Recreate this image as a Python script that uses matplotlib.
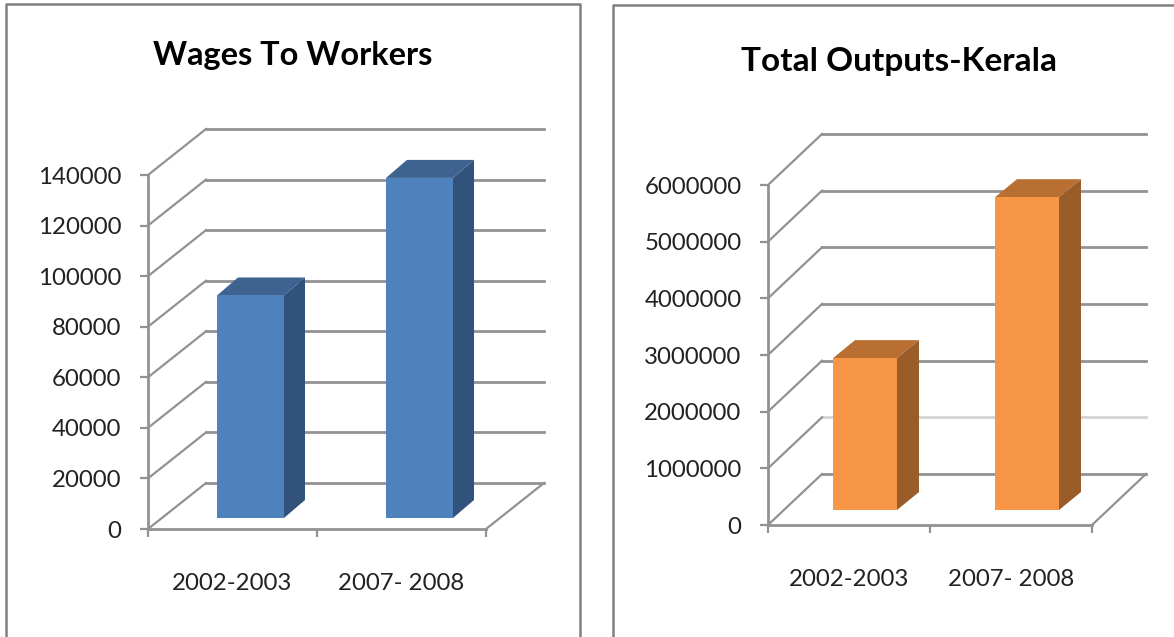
import matplotlib
matplotlib.use("Agg")
import matplotlib.pyplot as plt
from matplotlib.lines import Line2D
from matplotlib.patches import Polygon

plt.rcParams['font.family'] = ['Lato', 'DejaVu Sans']

W, H = 1174, 637

categories = ["2002-2003", "2007- 2008"]
wages = [88000, 134500]
wages_ticks = [0, 20000, 40000, 60000, 80000, 100000, 120000, 140000]
outputs = [2680000, 5520000]
outputs_ticks = [0, 1000000, 2000000, 3000000, 4000000, 5000000, 6000000]

GRID = "#929292"


def chart(box, values, ticks, title, title_xy, title_size, depth, bar_w, bar_off, bar_depth, cols, pale=None):
    # box is left, right, bottom, top in pixels, y going down like the picture
    l, r, b, t = box
    ax = fig.add_axes([l / W, 1 - b / H, (r - l) / W, (b - t) / H])
    top = ticks[-1]
    ax.set_xlim(0, 2)
    ax.set_ylim(0, top)
    ax.patch.set_visible(False)

    # pixel sizes to data units
    px = 2 / (r - l)
    py = top / (b - t)
    dx, dy = depth[0] * px, depth[1] * py

    # back wall and floor
    for i, v in enumerate(ticks):
        c = "#d4d4d4" if v == pale else GRID
        ax.plot([dx, 2 + dx], [v + dy, v + dy], color=c, lw=2.0, clip_on=False, zorder=1)
        ax.plot([0, dx], [v, v + dy], color=GRID, lw=1.6, clip_on=False, zorder=1)
    ax.plot([2, 2 + dx], [0, dy], color=GRID, lw=1.6, clip_on=False, zorder=1)

    # bars, front face plus top and side
    w = bar_w * px
    ox, oy = bar_off[0] * px, bar_off[1] * py
    ddx, ddy = bar_depth[0] * px, bar_depth[1] * py
    for i, v in enumerate(values):
        x0 = i + 0.5 + ox - w / 2
        x1 = x0 + w
        y0 = oy
        y1 = oy + v
        ax.add_patch(Polygon([(x0, y1), (x1, y1), (x1 + ddx, y1 + ddy), (x0 + ddx, y1 + ddy)],
                             fc=cols[1], ec="none", clip_on=False, zorder=3))
        ax.add_patch(Polygon([(x1, y0), (x1 + ddx, y0 + ddy), (x1 + ddx, y1 + ddy), (x1, y1)],
                             fc=cols[2], ec="none", clip_on=False, zorder=3))
        ax.add_patch(Polygon([(x0, y0), (x1, y0), (x1, y1), (x0, y1)],
                             fc=cols[0], ec="none", clip_on=False, zorder=4))

    for s in ["top", "right"]:
        ax.spines[s].set_visible(False)
    for s in ["left", "bottom"]:
        ax.spines[s].set_color(GRID)
        ax.spines[s].set_linewidth(2.0)

    ax.set_yticks(ticks)
    ax.set_yticklabels([str(v) for v in ticks], fontsize=17.3, color="#222222")
    ax.tick_params(axis="y", length=6, width=1.6, color=GRID, pad=13)
    ax.set_xticks([0, 1, 2])
    ax.set_xticklabels([])
    ax.tick_params(axis="x", which="major", length=6, width=1.6, color=GRID)
    ax.set_xticks([0.5, 1.5], minor=True)
    ax.set_xticklabels(categories, minor=True, fontsize=17.3, color="#222222")
    ax.tick_params(axis="x", which="minor", length=0, pad=32)

    fig.text(title_xy[0] / W, 1 - title_xy[1] / H, title, fontsize=title_size, fontweight="bold",
             color="black", ha="center", va="center")


def frame(xs, ys):
    fig.add_artist(Line2D([x / W for x in xs], [1 - y / H for y in ys], color="#808080", lw=1.8))


fig = plt.figure(figsize=(W / 100, H / 100), dpi=100, facecolor="white")

frame([6, 6, 580, 580], [637, 4, 4, 637])
frame([613, 613, 1174], [637, 5, 5])

chart((148, 486, 529, 175), wages, wages_ticks, "Wages To Workers", (293, 56), 23.4,
      (58, 46), 67, (18, 11), (21, 18), ("#4f81bd", "#3f6391", "#31527a"))
chart((768, 1092, 525, 185), outputs, outputs_ticks, "Total Outputs-Kerala", (899, 62), 24,
      (54, 51), 64, (16, 15), (22, 18), ("#f79646", "#b96f32", "#9a5d2a"), pale=1000000)

fig.savefig("out.png", dpi=100)
